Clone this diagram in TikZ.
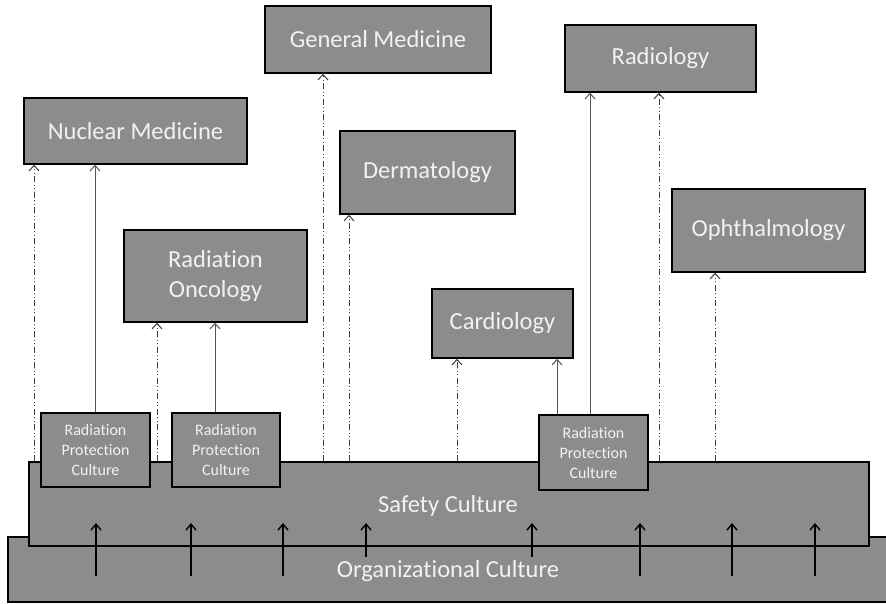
\documentclass[tikz,border=0pt]{standalone}
\usepackage{fontspec}
\setmainfont{Carlito}[Ligatures={NoCommon,NoContextual}]
\usetikzlibrary{arrows.meta}
\begin{document}
\begin{tikzpicture}[x=1pt,y=-1pt,
  box/.style={draw=black,line width=1.5pt,fill=boxgray,text=txtwhite,
    inner sep=0pt,align=center,font=\fontsize{24.5}{30}\selectfont},
  rpcbox/.style={box,font=\fontsize{16}{20}\selectfont},
  link/.style={draw=linegray,line width=1pt,
    -{Straight Barb[length=5.5pt,width=10pt,line width=1pt]}},
  ddlink/.style={link,draw=dashgray,
    dash pattern=on 6pt off 2.5pt on 1pt off 2.5pt on 1pt off 2.5pt},
  uparrow/.style={draw=black,line width=1.4pt,
    -{Straight Barb[length=6pt,width=10pt,line width=1.4pt]}},
  bigtext/.style={text=txtwhite,font=\fontsize{24.5}{30}\selectfont,inner sep=0pt}]
\definecolor{boxgray}{RGB}{140,140,140}
\definecolor{txtwhite}{RGB}{242,242,242}
\definecolor{linegray}{RGB}{85,85,85}
\definecolor{dashgray}{RGB}{60,60,60}
\useasboundingbox (0,0) rectangle (886,603);

% foundation layers
\draw[fill=boxgray,draw=black,line width=1.5pt] (8,537) rectangle (895,602);
\node[bigtext] (oc) at (448,571) {Organizational Culture};
\node[box,minimum width=840pt,minimum height=84pt] (sc) at (449,504) {};
\node[bigtext] (sct) at (448,506) {Safety Culture};

% radiation protection culture blocks
\node[rpcbox,minimum width=109pt,minimum height=74pt] (rpc1) at (95.5,450) {Radiation\\Protection\\Culture};
\node[rpcbox,minimum width=108pt,minimum height=74pt] (rpc2) at (226,450) {Radiation\\Protection\\Culture};
\node[rpcbox,minimum width=109pt,minimum height=75pt] (rpc3) at (593.5,452.5) {Radiation\\Protection\\Culture};

% specialties
\node[box,minimum width=223pt,minimum height=66pt] (nm) at (135.5,131) {Nuclear Medicine};
\node[box,minimum width=183pt,minimum height=92pt] (ro) at (215.5,276) {Radiation\\Oncology};
\node[box,minimum width=226pt,minimum height=67pt] (gm) at (378,39.5) {General Medicine};
\node[box,minimum width=175pt,minimum height=83pt] (de) at (427.5,172.5) {Dermatology};
\node[box,minimum width=141pt,minimum height=69pt] (ca) at (502.5,323.5) {Cardiology};
\node[box,minimum width=191pt,minimum height=67pt] (ra) at (660.5,58.5) {Radiology};
\node[box,minimum width=193pt,minimum height=83pt] (op) at (768.5,230.5) {Ophthalmology};

% links from safety culture
\draw[ddlink] (34,0 |- sc.north) -- (34,0 |- nm.south);
\draw[ddlink] (157,0 |- sc.north) -- (157,0 |- ro.south);
\draw[ddlink] (323,0 |- sc.north) -- (323,0 |- gm.south);
\draw[ddlink] (349,0 |- sc.north) -- (349,0 |- de.south);
\draw[ddlink] (457,0 |- sc.north) -- (457,0 |- ca.south);
\draw[ddlink] (659,0 |- sc.north) -- (659,0 |- ra.south);
\draw[ddlink] (715,0 |- sc.north) -- (715,0 |- op.south);

% links from radiation protection culture
\draw[link] (95,0 |- rpc1.north) -- (95,0 |- nm.south);
\draw[link] (215,0 |- rpc2.north) -- (215,0 |- ro.south);
\draw[link] (557,0 |- rpc3.north) -- (557,0 |- ca.south);
\draw[link] (590,0 |- rpc3.north) -- (590,0 |- ra.south);

% organizational culture feeding safety culture
\foreach \x in {96,191,283,640,732,815}
  \draw[uparrow] (\x,576) -- (\x,523);
\foreach \x in {366,532}
  \draw[uparrow] (\x,557) -- (\x,523);
\end{tikzpicture}
\end{document}
